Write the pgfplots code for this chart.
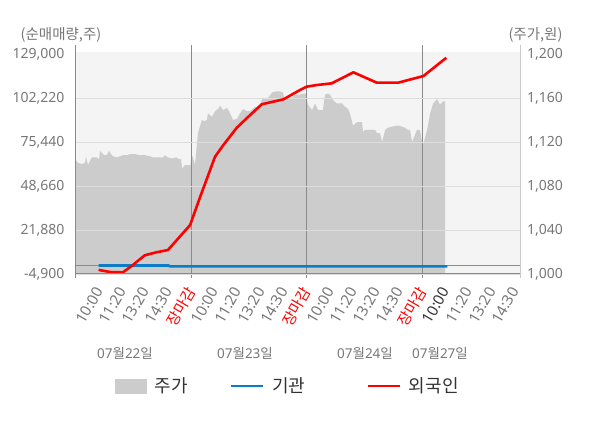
\documentclass[border=0pt]{standalone}
\usepackage{pgfplots}
\pgfplotsset{compat=1.18}
\usepackage{fontspec}
\setmainfont{Noto Sans}
\newfontfamily\kr{Noto Sans CJK KR}
\definecolor{bggray}{HTML}{F4F4F4}
\definecolor{areagray}{HTML}{CCCCCC}
\definecolor{gridgray}{HTML}{DDDDDD}
\definecolor{axgray}{HTML}{8A8A8A}
\definecolor{lblgray}{HTML}{777777}
\definecolor{lgdtext}{HTML}{333333}
\definecolor{fred}{HTML}{FF0000}
\definecolor{iblue}{HTML}{0A7DC8}

\pgfplotstableread{
u p
0.00 1104
0.11 1101
0.28 1100
0.41 1101
0.45 1107
0.54 1099
0.63 1103
0.71 1106
0.93 1106
1.02 1104
1.06 1112
1.15 1110
1.23 1108
1.36 1108
1.45 1112
1.54 1109
1.62 1107
1.80 1106
1.93 1107
2.06 1108
2.23 1108
2.36 1109
2.58 1109
2.79 1108
3.01 1108
3.23 1107
3.35 1106
3.57 1106
3.79 1106
3.87 1108
4.00 1106
4.18 1105
4.35 1106
4.52 1104
4.57 1105
4.61 1096
4.74 1099
4.98 1099
5.02 1108
5.09 1106
5.17 1099
5.30 1128
5.47 1140
5.60 1139
5.69 1140
5.73 1146
5.91 1143
6.04 1148
6.17 1150
6.26 1153
6.39 1149
6.56 1151
6.69 1146
6.82 1140
6.99 1141
7.12 1146
7.25 1150
7.42 1148
7.55 1148
7.77 1152
7.90 1151
7.99 1152
8.07 1159
8.20 1160
8.33 1160
8.51 1165
8.68 1166
8.85 1166
8.98 1165
9.07 1157
9.20 1160
9.37 1160
9.50 1163
9.72 1163
9.81 1164
9.98 1164
10.06 1154
10.24 1149
10.37 1155
10.50 1149
10.71 1149
10.80 1163
10.93 1164
11.02 1163
11.15 1158
11.32 1155
11.54 1155
11.67 1152
11.80 1150
11.88 1146
12.01 1135
12.19 1138
12.40 1138
12.45 1129
12.53 1131
12.97 1131
13.05 1128
13.18 1128
13.27 1120
13.40 1131
13.53 1133
13.70 1134
13.96 1135
14.13 1134
14.26 1133
14.39 1131
14.48 1131
14.57 1120
14.78 1131
14.91 1131
15.00 1120
15.04 1117
15.22 1131
15.35 1146
15.48 1155
15.65 1159
15.78 1154
15.91 1157
16.00 1157
}\price

\pgfplotstableread{
u v
1.00 -2400
1.50 -3700
2.05 -3900
2.43 0
3.00 6500
3.50 8300
4.00 9700
4.45 16800
4.96 24900
5.40 42200
6.04 66500
6.40 73600
6.98 84100
7.48 90800
8.06 98400
9.00 101400
9.72 107100
10.00 109100
10.44 110100
11.09 111150
12.03 117850
13.04 111550
13.97 111550
15.06 115600
16.05 126700
}\foreign

\pgfplotstableread{
u v
1.00 300
4.02 300
4.10 -300
16.10 -300
}\inst

\begin{document}
\begin{tikzpicture}
\path[use as bounding box] (0bp,0bp) rectangle (600bp,428bp);
\fill[bggray] (75.5bp,154bp) rectangle (520bp,376bp);
% price axis (right)
\begin{axis}[
  at={(75.5bp,154bp)}, anchor=south west,
  width=444.5bp, height=222bp, scale only axis,
  xmin=0, xmax=19.24, ymin=1000, ymax=1201.82,
  axis x line=none, axis y line*=right,
  axis line style={draw=none}, major tick length=0pt,
  scaled y ticks=false,
  ytick={1000,1040,1080,1120,1160,1200},
  yticklabels={{1,000},{1,040},{1,080},{1,120},{1,160},{1,200}},
  yticklabel style={anchor=west, inner sep=0pt, xshift=7bp,
    font=\fontsize{14bp}{16bp}\selectfont, text=lblgray},
  clip=true,
]
\addplot[fill=areagray, draw=none] table[x=u, y=p] {\price} \closedcycle;
\end{axis}
% day separators and zero line
\foreach \xx in {191,306.5,422}{
  \draw[axgray, line width=1bp] (\xx bp,150bp) -- (\xx bp,383bp);
}
\draw[axgray, line width=1bp] (75.5bp,162.05bp) -- (520bp,162.05bp);
% net buying axis (left)
\begin{axis}[
  at={(75.5bp,154bp)}, anchor=south west,
  width=444.5bp, height=222bp, scale only axis,
  xmin=0, xmax=19.24, ymin=-4900, ymax=130218,
  axis line style={draw=none}, major tick length=0pt,
  scaled y ticks=false, scaled x ticks=false,
  ytick={-4900,21880,48660,75440,102220},
  yticklabels={{-4,900},{21,880},{48,660},{75,440},{102,220}},
  extra y ticks={129000}, extra y tick labels={129{,}000},
  extra y tick style={grid=none},
  ymajorgrids, major grid style={draw=gridgray, line width=1bp},
  yticklabel style={anchor=east, inner sep=0pt, xshift=-11bp,
    font=\fontsize{14bp}{16bp}\selectfont, text=lblgray},
  xtick={1,...,19},
  xticklabels={10:00,11:20,13:20,14:30,\textcolor{fred}{\kr 장마감},
    10:00,11:20,13:20,14:30,\textcolor{fred}{\kr 장마감},
    10:00,11:20,13:20,14:30,\textcolor{fred}{\kr 장마감},
    \textcolor{lgdtext}{10:00},11:20,13:20,14:30},
  xticklabel style={xshift=0.5bp, yshift=-14.5bp, rotate=60,
    anchor=east, inner sep=0pt,
    font=\fontsize{15bp}{17bp}\selectfont, text=lblgray},
  clip=false,
  legend columns=3,
  legend style={at={(0.4755,-0.5045)}, anchor=center, draw=none, fill=none,
    font=\kr\fontsize{18bp}{20bp}\selectfont, text=lgdtext,
    inner sep=0pt, nodes={inner sep=0pt},
    /tikz/every odd column/.append style={column sep=8bp},
    /tikz/column 2/.style={column sep=42bp},
    /tikz/column 4/.style={column sep=61bp}},
]
\addlegendimage{legend image code/.code={\fill[areagray] (0bp,-7bp) rectangle (31bp,7bp);}}
\addlegendentry{주가}
\addplot[iblue, line width=2.6bp, legend image code/.code={\draw[iblue, line width=2.6bp] (0bp,0bp) -- (32bp,0bp);}] table[x=u, y=v] {\inst};
\addlegendentry{기관}
\addplot[fred, line width=2.6bp, line join=round, legend image code/.code={\draw[fred, line width=2.6bp] (0bp,0bp) -- (32bp,0bp);}] table[x=u, y=v] {\foreign};
\addlegendentry{외국인}
\end{axis}
% axis frame lines
\draw[axgray, line width=1bp] (75.5bp,150bp) -- (75.5bp,383bp);
\draw[axgray, line width=1bp] (75.5bp,154bp) -- (520bp,154bp);
\draw[gridgray!80!gray, line width=1bp] (520bp,150bp) -- (520bp,383bp);
% titles
\node[font=\kr\fontsize{14.5bp}{16bp}\selectfont, text=lblgray] at (61bp,393bp) {(순매매량,주)};
\node[font=\kr\fontsize{14.5bp}{16bp}\selectfont, text=lblgray] at (535.5bp,393bp) {(주가,원)};
% date labels
\node[font=\fontsize{13.5bp}{16bp}\selectfont, text=lblgray] at (125bp,75bp) {07{\kr 월}22{\kr 일}};
\node[font=\fontsize{13.5bp}{16bp}\selectfont, text=lblgray] at (245bp,75bp) {07{\kr 월}23{\kr 일}};
\node[font=\fontsize{13.5bp}{16bp}\selectfont, text=lblgray] at (365bp,75bp) {07{\kr 월}24{\kr 일}};
\node[font=\fontsize{13.5bp}{16bp}\selectfont, text=lblgray] at (440bp,75bp) {07{\kr 월}27{\kr 일}};
\end{tikzpicture}
\end{document}
